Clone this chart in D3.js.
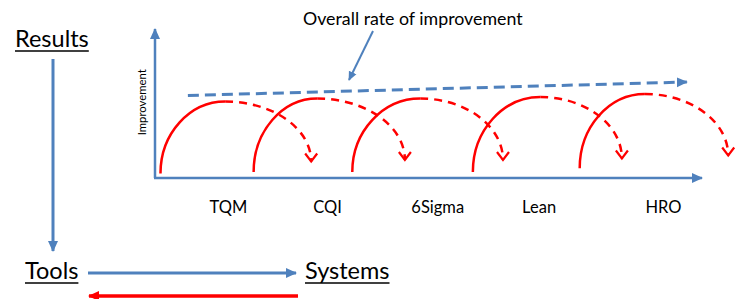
<!DOCTYPE html>
<html>
<head>
<meta charset="utf-8">
<script src="https://cdn.jsdelivr.net/npm/d3@7"></script>
<style>
  body { margin: 0; background: #fff; }
  text { font-family: Lato, "Open Sans", sans-serif; fill: #000; }
</style>
</head>
<body>
<script>
// improvement waves, in chart units (x 0..100 along the time axis, y 0..100 improvement)
var categories = ['TQM', 'CQI', '6Sigma', 'Lean', 'HRO'];
var labelPos = [13.3, 31.4, 51.5, 70, 92.7];
var arcStart = [[1, 3], [18, 4], [36, 4], [58, 4], [77.5, 6.5]];
var arcPeak = [[12.8, 51], [29.6, 53], [48.4, 53], [70.3, 54], [89.4, 56]];
var arcEnd = [[28.5, 11], [45.6, 12], [63.5, 12], [85.2, 13], [104.6, 15]];
var trend = [[6, 55], [97.6, 64]];

var blue = '#4f81bd';
var red = '#ff0000';

var scr = { w: 742, h: 299 };
var svg = d3.select('body').append('svg')
            .attr('width', scr.w)
            .attr('height', scr.h);

var defs = svg.append('defs');
function triMarker(id, color, size) {
  defs.append('marker')
      .attr('id', id)
      .attr('viewBox', '-10 -6 12 12')
      .attr('refX', 0).attr('refY', 0)
      .attr('markerUnits', 'userSpaceOnUse')
      .attr('markerWidth', size).attr('markerHeight', size)
      .attr('orient', 'auto')
      .append('path')
      .attr('d', 'M-10,-5L1,0L-10,5Z')
      .attr('fill', color);
}
triMarker('blueTri', blue, 12);
triMarker('blueTriSmall', blue, 10);
triMarker('redTri', red, 12);
defs.append('marker')
    .attr('id', 'redChev')
    .attr('viewBox', '-10 -8 13 16')
    .attr('refX', 0).attr('refY', 0)
    .attr('markerUnits', 'userSpaceOnUse')
    .attr('markerWidth', 13).attr('markerHeight', 16)
    .attr('orient', 'auto')
    .append('path')
    .attr('d', 'M-8,-6L0,0L-8,6')
    .attr('fill', 'none')
    .attr('stroke', red)
    .attr('stroke-width', 2.2);

var xScale = d3.scaleLinear().domain([0, 100]).range([155, 703]);
var yScale = d3.scaleLinear().domain([0, 100]).range([178, 28]);

// axes
var chart = svg.append('g').classed('chart', true);
chart.append('line')
     .attr('x1', xScale(0)).attr('y1', yScale(0))
     .attr('x2', xScale(0)).attr('y2', yScale(100) + 1)
     .attr('stroke', blue).attr('stroke-width', 2.5)
     .attr('marker-end', 'url(#blueTri)');
chart.append('line')
     .attr('x1', xScale(0) - 1).attr('y1', yScale(0))
     .attr('x2', xScale(100) - 1).attr('y2', yScale(0))
     .attr('stroke', blue).attr('stroke-width', 2.5)
     .attr('marker-end', 'url(#blueTri)');

var xAxis = d3.axisBottom(xScale)
              .tickValues(labelPos)
              .tickFormat(function(d, i) { return categories[i]; })
              .tickSize(0)
              .tickPadding(23);
var gx = chart.append('g')
              .attr('transform', 'translate(0,' + yScale(0) + ')')
              .call(xAxis);
gx.select('.domain').remove();
gx.selectAll('text')
  .style('font-family', 'Lato, "Open Sans", sans-serif')
  .attr('font-size', 16.5)
  .attr('fill', '#000');

chart.append('text')
     .attr('transform', 'translate(146,' + yScale(50.5) + ') rotate(-90)')
     .attr('text-anchor', 'middle')
     .attr('font-size', 11.3)
     .text('Improvement');

// waves: solid rise to the peak, dashed fall afterwards
var waves = chart.selectAll('g.wave')
                 .data(categories)
                 .enter()
                 .append('g')
                 .classed('wave', true);
waves.append('path')
     .attr('d', function(d, i) {
       var sx = xScale(arcStart[i][0]), sy = yScale(arcStart[i][1]);
       var px = xScale(arcPeak[i][0]), py = yScale(arcPeak[i][1]);
       return 'M' + sx + ',' + sy + 'A' + (px - sx) + ',' + (sy - py) + ' 0 0 1 ' + px + ',' + py;
     })
     .attr('fill', 'none')
     .attr('stroke', red)
     .attr('stroke-width', 2.5);
waves.append('path')
     .attr('d', function(d, i) {
       var px = xScale(arcPeak[i][0]), py = yScale(arcPeak[i][1]);
       var ex = xScale(arcEnd[i][0]), ey = yScale(arcEnd[i][1]);
       return 'M' + px + ',' + py + 'A' + (ex - px) + ',' + (ey - py) + ' 0 0 1 ' + ex + ',' + ey;
     })
     .attr('fill', 'none')
     .attr('stroke', red)
     .attr('stroke-width', 2.5)
     .attr('stroke-dasharray', '8,6')
     .attr('marker-end', 'url(#redChev)');

// overall trend
chart.append('line')
     .attr('x1', xScale(trend[0][0])).attr('y1', yScale(trend[0][1]))
     .attr('x2', xScale(trend[1][0]) - 3).attr('y2', yScale(trend[1][1]))
     .attr('stroke', blue).attr('stroke-width', 3)
     .attr('stroke-dasharray', '11,6')
     .attr('marker-end', 'url(#blueTri)');

svg.append('text')
   .attr('x', 303).attr('y', 25)
   .attr('font-size', 17.8)
   .text('Overall rate of improvement');
svg.append('line')
   .attr('x1', 373).attr('y1', 31)
   .attr('x2', 349).attr('y2', 80)
   .attr('stroke', blue).attr('stroke-width', 2)
   .attr('marker-end', 'url(#blueTriSmall)');

// left hand diagram
function underlined(x, y, size, label) {
  var t = svg.append('text')
             .attr('x', x).attr('y', y)
             .attr('font-size', size)
             .text(label);
  var w = t.node().getComputedTextLength();
  svg.append('line')
     .attr('x1', x).attr('x2', x + w)
     .attr('y1', y + 4).attr('y2', y + 4)
     .attr('stroke', '#000').attr('stroke-width', 1.3);
}
underlined(15, 47, 23.5, 'Results');
underlined(25, 279, 23.5, 'Tools');
underlined(305, 279, 23.5, 'Systems');

svg.append('line')
   .attr('x1', 53).attr('y1', 59).attr('x2', 53).attr('y2', 251)
   .attr('stroke', blue).attr('stroke-width', 3)
   .attr('marker-end', 'url(#blueTri)');
svg.append('line')
   .attr('x1', 88).attr('y1', 273).attr('x2', 296).attr('y2', 273)
   .attr('stroke', blue).attr('stroke-width', 3)
   .attr('marker-end', 'url(#blueTri)');
svg.append('line')
   .attr('x1', 298).attr('y1', 296).attr('x2', 89).attr('y2', 296)
   .attr('stroke', red).attr('stroke-width', 3.5)
   .attr('marker-end', 'url(#redTri)');
</script>
</body>
</html>
